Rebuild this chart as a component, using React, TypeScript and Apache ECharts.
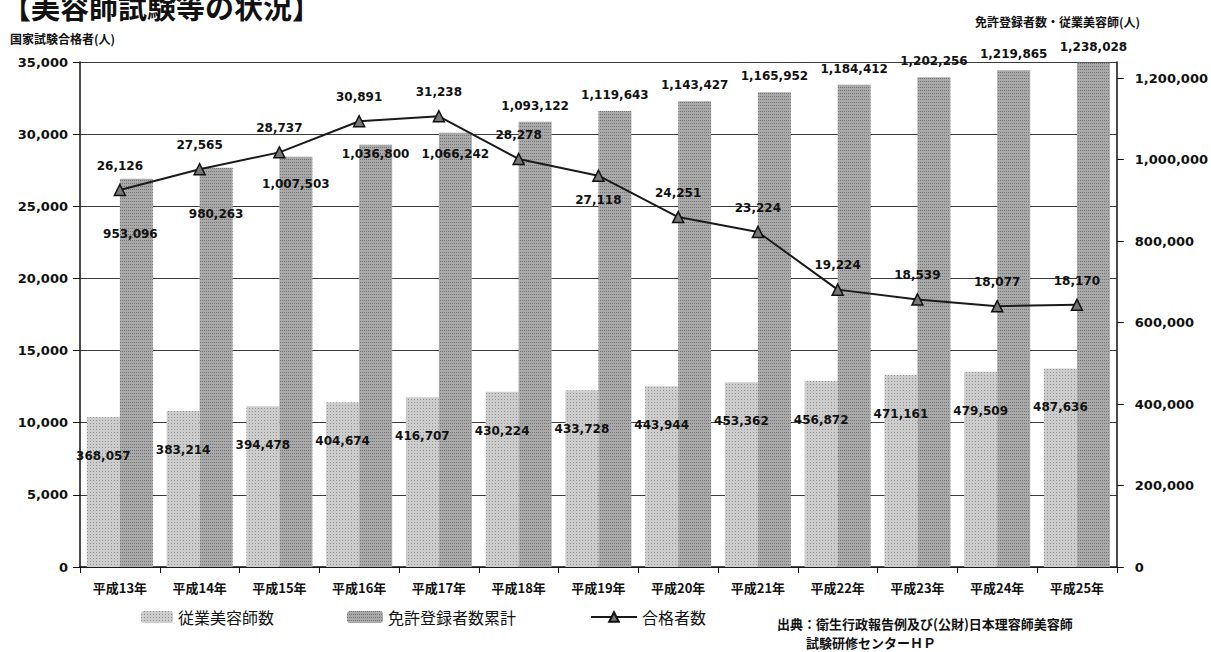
import React, { useEffect, useRef } from "react";
import * as echarts from "echarts";

const categories = [
  "平成13年", "平成14年", "平成15年", "平成16年", "平成17年", "平成18年", "平成19年",
  "平成20年", "平成21年", "平成22年", "平成23年", "平成24年", "平成25年",
];
const staffCounts = [
  368057, 383214, 394478, 404674, 416707, 430224, 433728, 443944, 453362, 456872, 471161, 479509, 487636,
];
const licenseTotals = [
  953096, 980263, 1007503, 1036800, 1066242, 1093122, 1119643, 1143427, 1165952, 1184412, 1202256, 1219865, 1238028,
];
const passCounts = [
  26126, 27565, 28737, 30891, 31238, 28278, 27118, 24251, 23224, 19224, 18539, 18077, 18170,
];

// label placement tweaks (style only)
const licenseLabelOffsets: [number, number][] = [
  [-6, 66], [0, 57], [0, 38], [0, 20], [0, 32], [0, -5], [0, -5], [0, -5], [0, -5], [0, -5], [0, -5], [0, -5], [0, -5],
];
const passLabelBelow = [false, false, false, false, false, false, true, false, false, false, false, false, false];

const fmt = (v: number) => Number(v).toLocaleString("en-US");
const NUM_FONT = "DejaVu Sans";
const JP_FONT = '"Noto Sans CJK JP"';

export default function App() {
  const ref = useRef<HTMLDivElement>(null);
  useEffect(() => {
    document.body.style.margin = "0";
    if (!ref.current) return;
    const chart = echarts.init(ref.current, undefined, { renderer: "svg" });
    const numLabel = { fontFamily: NUM_FONT, fontSize: 12, fontWeight: "bold" as const, color: "#111" };
    chart.setOption({
      animation: false,
      backgroundColor: "#ffffff",
      grid: { left: 80, right: 93, top: 62, bottom: 85 },
      legend: [
        {
          data: ["従業美容師数"], left: 136, top: 604, itemWidth: 32, itemHeight: 12, itemGap: 4,
          textStyle: { fontFamily: "Noto Sans CJK JP", fontSize: 16, color: "#111" },
        },
        {
          data: ["免許登録者数累計"], left: 342, top: 604, itemWidth: 36, itemHeight: 12, itemGap: 4,
          textStyle: { fontFamily: "Noto Sans CJK JP", fontSize: 16, color: "#111" },
        },
        {
          data: ["合格者数"], left: 585, top: 604, itemWidth: 46, itemHeight: 12, itemGap: 4,
          textStyle: { fontFamily: "Noto Sans CJK JP", fontSize: 16, color: "#111" },
        },
      ],
      xAxis: {
        type: "category",
        data: categories,
        axisLine: { lineStyle: { color: "#111", width: 1.5 } },
        axisTick: { show: true, length: 6, lineStyle: { color: "#111" } },
        axisLabel: { fontFamily: "Noto Sans CJK JP", fontSize: 13, fontWeight: "bold", color: "#111", margin: 14 },
      },
      yAxis: [
        {
          type: "value", min: 0, max: 35000, interval: 5000, position: "left",
          axisLine: { show: true, lineStyle: { color: "#111", width: 1.5 } },
          axisTick: { show: true, length: 7, lineStyle: { color: "#111" } },
          axisLabel: { formatter: (v: number) => fmt(v), fontFamily: NUM_FONT, fontSize: 13, fontWeight: "bold", color: "#111", margin: 12 },
          splitLine: { show: true, lineStyle: { color: "#3a3a3a", width: 1 } },
        },
        {
          type: "value", min: 0, max: 1240000, interval: 200000, position: "right",
          axisLine: { show: true, lineStyle: { color: "#111", width: 1.5 } },
          axisTick: { show: true, length: 7, lineStyle: { color: "#111" } },
          axisLabel: {
            formatter: (v: number) => fmt(v), showMaxLabel: false,
            fontFamily: NUM_FONT, fontSize: 13, fontWeight: "bold", color: "#111", margin: 18,
          },
          splitLine: { show: false },
        },
      ],
      series: [
        {
          name: "従業美容師数",
          type: "bar",
          yAxisIndex: 1,
          barWidth: 33,
          barGap: "0%",
          data: staffCounts,
          itemStyle: {
            color: "#cdcdcd",
            decal: { symbol: "rect", symbolSize: 1, dashArrayX: [1, 2], dashArrayY: [1, 2], color: "rgba(40,40,40,0.35)" },
          },
          label: { show: true, position: "insideTop", offset: [0, 28], formatter: (p: any) => fmt(p.value), ...numLabel },
        },
        {
          name: "免許登録者数累計",
          type: "bar",
          yAxisIndex: 1,
          barWidth: 33,
          data: licenseTotals.map((v, i) => ({ value: v, label: { offset: licenseLabelOffsets[i] } })),
          itemStyle: {
            color: "#a9a9a9",
            decal: { symbol: "rect", symbolSize: 1, dashArrayX: [1, 1], dashArrayY: [1, 2], color: "rgba(20,20,20,0.35)" },
          },
          label: { show: true, position: "top", distance: 5, formatter: (p: any) => fmt(p.value), ...numLabel },
        },
        {
          name: "合格者数",
          type: "line",
          yAxisIndex: 0,
          z: 5,
          data: passCounts.map((v, i) => (passLabelBelow[i] ? { value: v, label: { position: "bottom" } } : v)),
          symbol: "triangle",
          symbolSize: 11,
          lineStyle: { color: "#1a1a1a", width: 2 },
          itemStyle: { color: "#777777", borderColor: "#111", borderWidth: 1.5 },
          label: { show: true, position: "top", distance: 12, formatter: (p: any) => fmt(p.value), ...numLabel },
        },
      ],
      graphic: [
        {
          type: "text", x: 2, y: -9,
          style: { text: "【美容師試験等の状況】", font: `bold 29px ${JP_FONT}`, fill: "#111", verticalAlign: "top" },
        },
        {
          type: "text", x: 10, y: 32,
          style: { text: "国家試験合格者(人)", font: `bold 12px ${JP_FONT}`, fill: "#111", verticalAlign: "top" },
        },
        {
          type: "text", x: 975, y: 15,
          style: { text: "免許登録者数・従業美容師(人)", font: `bold 12px ${JP_FONT}`, fill: "#111", verticalAlign: "top" },
        },
        {
          type: "text", x: 777, y: 617,
          style: { text: "出典：衛生行政報告例及び(公財)日本理容師美容師", font: `bold 13px ${JP_FONT}`, fill: "#111", verticalAlign: "top" },
        },
        {
          type: "text", x: 806, y: 636,
          style: { text: "試験研修センターＨＰ", font: `bold 13px ${JP_FONT}`, fill: "#111", verticalAlign: "top" },
        },
      ],
    });
    return () => chart.dispose();
  }, []);
  return <div ref={ref} style={{ width: 1211, height: 652 }} />;
}
